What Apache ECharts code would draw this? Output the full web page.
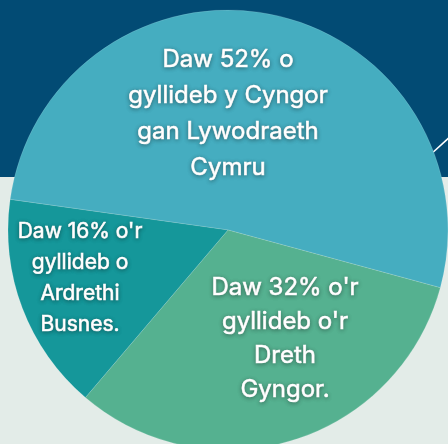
<!DOCTYPE html>
<html><head><meta charset="utf-8">
<script src="https://cdn.jsdelivr.net/npm/echarts@6/dist/echarts.min.js"></script>
<style>html,body{margin:0;padding:0;background:#e3ece8}#c{width:448px;height:444px}</style>
</head><body><div id="c"></div>
<script>
const categories = ["Llywodraeth Cymru", "Treth Gyngor", "Ardrethi Busnes"];
const values = [52, 32, 16];
const labelTexts = [
  "Daw 52% o\ngyllideb y Cyngor\ngan Lywodraeth\nCymru",
  "Daw 32% o'r\ngyllideb o'r\nDreth\nGyngor.",
  "Daw 16% o'r\ngyllideb o\nArdrethi\nBusnes."
];
const colors = ["#45adc0", "#55b190", "#15979a"];
const labelPos = [[228, 114, 24, 36], [285, 339, 24, 34], [80, 278, 21, 31]];

const chart = echarts.init(document.getElementById('c'), null, {renderer: 'canvas'});
chart.setOption({
  backgroundColor: '#e3ece8',
  animation: false,
  graphic: [
    {type: 'rect', z: 0, shape: {x: 0, y: 0, width: 448, height: 177}, style: {fill: '#024b74'}},
    {type: 'line', z: 1, shape: {x1: 430, y1: 155, x2: 452, y2: 135}, style: {stroke: '#ffffff', lineWidth: 1.5}}
  ],
  series: [{
    type: 'pie',
    z: 5,
    center: [228, 230],
    radius: [0, 220],
    startAngle: 172,
    clockwise: true,
    silent: true,
    data: categories.map((c, i) => ({
      name: c, value: values[i],
      itemStyle: {color: colors[i]},
      label: {
        formatter: labelTexts[i],
        fontSize: labelPos[i][2],
        lineHeight: labelPos[i][3]
      }
    })),
    itemStyle: {borderColor: 'rgba(255,255,255,0.22)', borderWidth: 0.6},
    label: {
      show: true,
      position: 'inside',
      color: '#ffffff',
      fontFamily: 'Inter',
      fontWeight: 'normal',
      align: 'center',
      textBorderColor: '#ffffff',
      textBorderWidth: 0.7,
      textShadowColor: 'rgba(0,0,0,0.35)',
      textShadowBlur: 4,
      textShadowOffsetX: 0,
      textShadowOffsetY: 1
    },
    labelLine: {show: false},
    labelLayout: function (p) {
      const lp = labelPos[p.dataIndex];
      return {x: lp[0], y: lp[1], align: 'center', verticalAlign: 'middle'};
    }
  }]
});
</script></body></html>
